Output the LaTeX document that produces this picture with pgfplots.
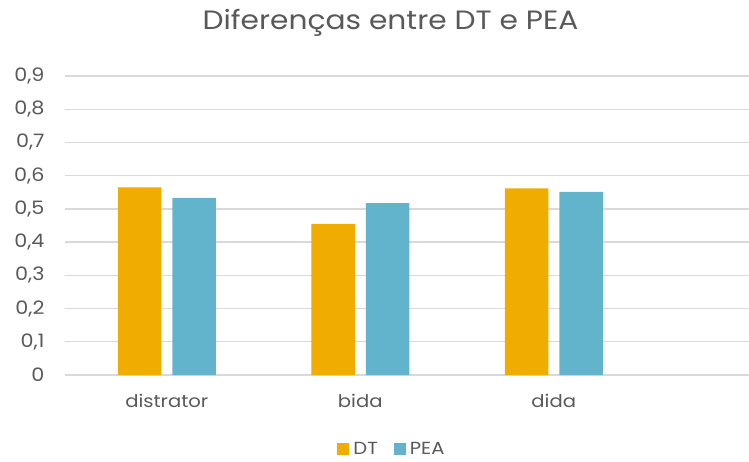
\documentclass[border=0pt]{standalone}
\usepackage{pgfplots}
\pgfplotsset{compat=1.18}
\usepackage{fontspec}
\setmainfont{Poppins}[FakeStretch=1.12]
\definecolor{cDT}{RGB}{240,172,0}
\definecolor{cPEA}{RGB}{98,180,205}
\definecolor{txt}{RGB}{89,89,89}
\definecolor{gridc}{RGB}{217,217,217}
\pgfplotstableread{
x DT PEA
0 0.565 0.533
1 0.455 0.517
2 0.562 0.551
}\data
\begin{document}
\begin{tikzpicture}[x=1pt,y=1pt]
\useasboundingbox (0,0) rectangle (749,461);
\begin{axis}[
  at={(65pt,86pt)}, anchor=south west,
  scale only axis, width=684pt, height=299pt,
  xmin=-0.526, xmax=3.009, ymin=0, ymax=0.9,
  xtick={0,1,2}, xticklabels={distrator,bida,dida},
  ytick={0,0.1,...,0.9},
  xmajorgrids=false, ymajorgrids=true, major grid style={color=gridc, line width=1.3pt},
  axis line style={draw=none}, tick style={draw=none},
  /pgf/number format/.cd, use comma, fixed, precision=1, assume math mode=true,
  /pgfplots/.cd,
  yticklabel style={font=\fontsize{18.5}{20}\selectfont, text=txt, xshift=-17pt},
  xticklabel style={font=\fontsize{17.5}{20}\selectfont, text=txt, yshift=-16pt},
  legend style={at={(0.478,-0.247)}, anchor=center, draw=none, fill=none,
    legend columns=-1, font=\fontsize{17.5}{20}\selectfont, text=txt,
    /tikz/every odd column/.append style={column sep=2pt},
    /tikz/every even column/.append style={column sep=14pt}},
  legend image code/.code={\fill[#1] (0pt,-6pt) rectangle (12pt,6pt);},
]
\addplot[ybar, bar width=43.5pt, bar shift=-27.25pt, fill=cDT, draw=none] table[x=x,y=DT]{\data};
\addplot[ybar, bar width=43.5pt, bar shift=27.25pt, fill=cPEA, draw=none] table[x=x,y=PEA]{\data};
\legend{DT,PEA}
\end{axis}
\node[anchor=base, text=txt, font=\fontsize{26.5}{30}\selectfont] at (390.5,431) {Diferenças entre DT e PEA};
\end{tikzpicture}
\end{document}
